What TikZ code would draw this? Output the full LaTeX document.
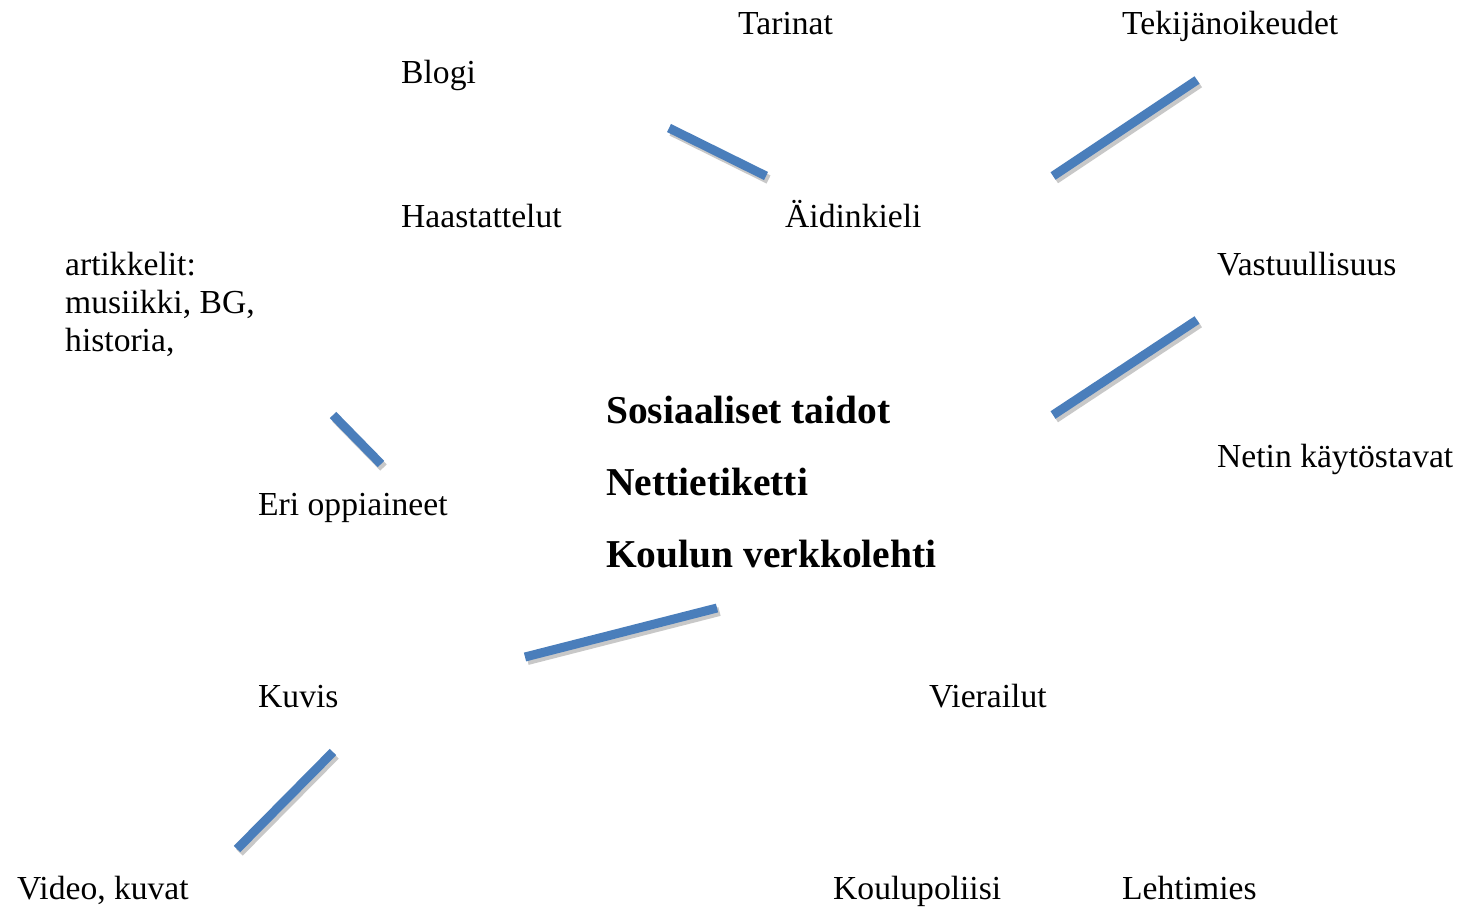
\documentclass[tikz,border=0pt]{standalone}
\usepackage{fontspec}
\setmainfont{Liberation Serif}
\definecolor{linkblue}{RGB}{74,126,187}
\definecolor{shadowgray}{RGB}{200,200,200}
\tikzset{
  lbl/.style={anchor=base west, inner sep=0pt, font=\fontsize{33.6}{38}\selectfont},
  big/.style={anchor=base west, inner sep=0pt, font=\fontsize{39.5}{44}\selectfont\bfseries},
  link/.style={line width=9pt, linkblue},
  linkshadow/.style={line width=9pt, shadowgray},
}
\newcommand{\barlink}[2]{%
  \draw[linkshadow] ([shift={(2.5pt,-3.5pt)}]#1) -- ([shift={(2.5pt,-3.5pt)}]#2);
  \draw[link] (#1) -- (#2);}
\begin{document}
\begin{tikzpicture}[x=1pt,y=-1pt]
\useasboundingbox (0,0) rectangle (1463,907);
% texts
\node[lbl] (tarinat) at (738,35) {Tarinat};
\node[lbl] (tekija) at (1122,35) {Tekijänoikeudet};
\node[lbl] (blogi) at (401,83) {Blogi};
\node[lbl] (haast) at (401,227) {Haastattelut};
\node[lbl] (aidin) at (785,227) {Äidinkieli};
\node[lbl] (art1) at (65,275) {artikkelit:};
\node[lbl] (art2) at (65,313) {musiikki, BG,};
\node[lbl] (art3) at (65,351) {historia,};
\node[lbl] (vastuu) at (1217,275) {Vastuullisuus};
\node[big] (sosi) at (606,423) {Sosiaaliset taidot};
\node[lbl] (netin) at (1217,467) {Netin käytöstavat};
\node[big] (netti) at (606,495) {Nettietiketti};
\node[lbl] (eri) at (258,515) {Eri oppiaineet};
\node[big] (koulu) at (606,567) {Koulun verkkolehti};
\node[lbl] (kuvis) at (258,707) {Kuvis};
\node[lbl] (vier) at (929,707) {Vierailut};
\node[lbl] (video) at (17,899) {Video, kuvat};
\node[lbl] (poliisi) at (833,899) {Koulupoliisi};
\node[lbl] (lehti) at (1122,899) {Lehtimies};
% connector end points
\coordinate (a1) at (669,128); \coordinate (a2) at (766,176);
\coordinate (b1) at (1053,176); \coordinate (b2) at (1197,80);
\coordinate (c1) at (1053,415); \coordinate (c2) at (1197,320);
\coordinate (d1) at (333,415); \coordinate (d2) at (381,464);
\coordinate (e1) at (525,657); \coordinate (e2) at (717,608);
\coordinate (f1) at (237,849); \coordinate (f2) at (333,752);
\barlink{a1}{a2}
\barlink{b1}{b2}
\barlink{c1}{c2}
\barlink{d1}{d2}
\barlink{e1}{e2}
\barlink{f1}{f2}
\end{tikzpicture}
\end{document}
